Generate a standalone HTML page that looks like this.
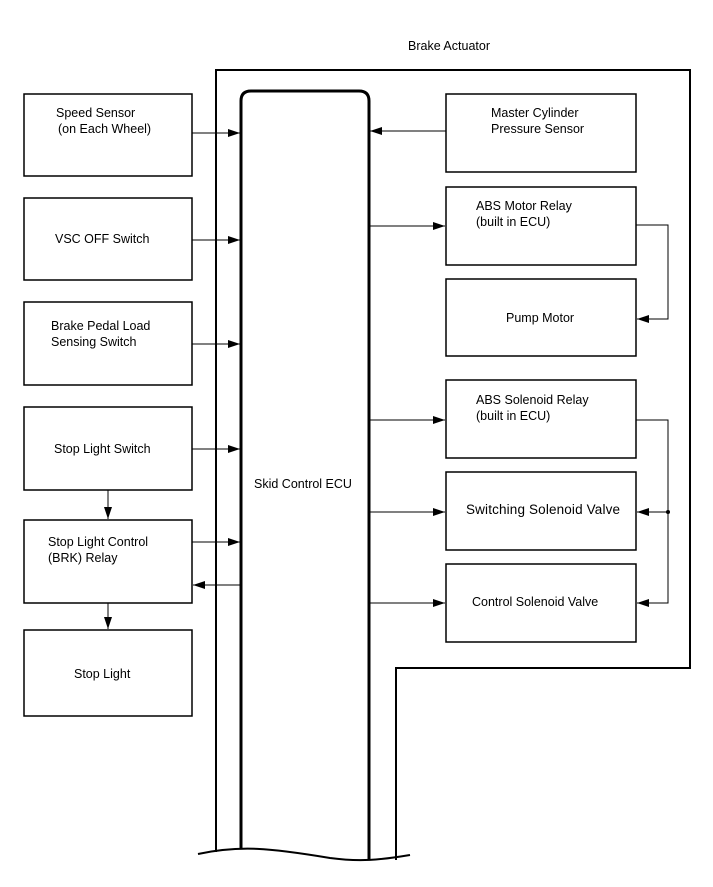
<!DOCTYPE html>
<html><head><style>body{margin:0;background:#fff}</style></head><body>
<svg width="713" height="882" xmlns="http://www.w3.org/2000/svg" font-family="Liberation Sans, sans-serif" font-size="12.5">
<defs><marker id="a" markerWidth="12" markerHeight="8" refX="12" refY="4" orient="auto" markerUnits="userSpaceOnUse"><path d="M0,0L12,4L0,8z" fill="#000"/></marker></defs>
<g fill="none" stroke="#000">
<path d="M216,852V70H690V668H396V860" stroke-width="2"/>
<path d="M241,849V101Q241,91 251,91H359Q369,91 369,101V860" stroke-width="3"/>
<path d="M198,854C240,845 270,848 330,858C360,862 380,860 410,855" stroke-width="2"/>
<g stroke-width="1.5">
<rect x="24" y="94" width="168" height="82"/>
<rect x="24" y="198" width="168" height="82"/>
<rect x="24" y="302" width="168" height="83"/>
<rect x="24" y="407" width="168" height="83"/>
<rect x="24" y="520" width="168" height="83"/>
<rect x="24" y="630" width="168" height="86"/>
<rect x="446" y="94" width="190" height="78"/>
<rect x="446" y="187" width="190" height="78"/>
<rect x="446" y="279" width="190" height="77"/>
<rect x="446" y="380" width="190" height="78"/>
<rect x="446" y="472" width="190" height="78"/>
<rect x="446" y="564" width="190" height="78"/>
</g>
<g stroke-width="1" marker-end="url(#a)">
<path d="M192,133H240"/><path d="M192,240H240"/><path d="M192,344H240"/><path d="M192,449H240"/><path d="M192,542H240"/>
<path d="M241,585H193"/>
<path d="M108,490V519"/><path d="M108,603V629"/>
<path d="M446,131H370"/>
<path d="M369,226H445"/><path d="M369,420H445"/><path d="M369,512H445"/><path d="M369,603H445"/>
<path d="M636,225H668V319H637"/>
<path d="M636,420H668V603H637"/>
<path d="M668,512H637"/>
</g>
</g>
<circle cx="668" cy="512" r="2" fill="#000"/>
<g fill="#000">
<text x="408" y="50">Brake Actuator</text>
<text x="56" y="117">Speed Sensor</text><text x="58" y="133">(on Each Wheel)</text>
<text x="55" y="243">VSC OFF Switch</text>
<text x="51" y="330">Brake Pedal Load</text><text x="51" y="346">Sensing Switch</text>
<text x="54" y="453">Stop Light Switch</text>
<text x="48" y="546">Stop Light Control</text><text x="48" y="562">(BRK) Relay</text>
<text x="74" y="678">Stop Light</text>
<text x="254" y="488">Skid Control ECU</text>
<text x="491" y="117">Master Cylinder</text><text x="491" y="133">Pressure Sensor</text>
<text x="476" y="210">ABS Motor Relay</text><text x="476" y="226">(built in ECU)</text>
<text x="506" y="322">Pump Motor</text>
<text x="476" y="404">ABS Solenoid Relay</text><text x="476" y="420">(built in ECU)</text>
<text x="466" y="514" font-size="13.5" textLength="154">Switching Solenoid Valve</text>
<text x="472" y="606">Control Solenoid Valve</text>
</g>
</svg>
</body></html>
